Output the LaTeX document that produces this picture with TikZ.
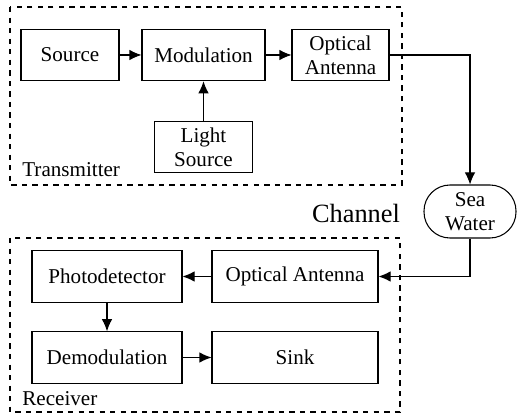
\documentclass[tikz,border=0pt]{standalone}
\usepackage{fontspec}
\setmainfont{Liberation Serif}
\usetikzlibrary{arrows.meta}

\tikzset{
	blok/.style={draw, line width=0.6pt, minimum height=1.03cm, align=center, font=\fontsize{12}{13.5}\selectfont},
	ramka/.style={draw, dashed, line width=0.6pt},
	strelka/.style={line width=0.6pt, -{Latex[length=2.4mm,width=2.1mm]}},
	podpis/.style={anchor=base west, inner sep=0pt, font=\fontsize{12}{13.5}\selectfont}
}

\begin{document}
\begin{tikzpicture}
	\useasboundingbox (0,0) rectangle (10.34,-8.32);
	
	%%% Рамки
	\draw[ramka] (0.20,-0.14) rectangle (8.04,-3.70);
	\draw[ramka] (0.20,-4.76) rectangle (8.00,-8.24);
	
	%%% Передатчик
	\node[blok, minimum width=1.96cm] (source) at (1.40,-1.10) {Source};
	\node[blok, minimum width=2.46cm] (mod) at (4.07,-1.10) {Modulation};
	\node[blok, minimum width=1.94cm, inner sep=1pt] (txant) at (6.81,-1.10) {Optical\\Antenna};
	\node[blok, minimum width=1.96cm, inner sep=1pt] (light) at (4.07,-2.94) {Light\\Source};
	\node[podpis] (tx) at (0.44,-3.53) {Transmitter};
	
	%%% Канал
	\node[blok, rounded corners=0.52cm, minimum width=1.84cm, minimum height=1.06cm, inner sep=1pt] (sea) at (9.40,-4.23) {Sea\\Water};
	\node[font=\fontsize{15}{17}\selectfont] (channel) at (7.12,-4.26) {Channel};
	
	%%% Приемник
	\node[blok, minimum width=3.00cm] (pd) at (2.14,-5.53) {Photodetector};
	\node[blok, minimum width=3.32cm] (rxant) at (5.90,-5.53) {Optical Antenna};
	\node[blok, minimum width=3.00cm] (demod) at (2.14,-7.15) {Demodulation};
	\node[blok, minimum width=3.32cm] (sink) at (5.90,-7.15) {Sink};
	\node[podpis] (rx) at (0.44,-8.10) {Receiver};
	
	%%% Стрелки
	\draw[strelka] (source) -- (mod);
	\draw[strelka] (mod) -- (txant);
	\draw[strelka] (light) -- (mod);
	\draw[strelka] (txant.east) -| (sea.north);
	\draw[strelka] (sea.south) |- (rxant.east);
	\draw[strelka] (rxant) -- (pd);
	\draw[strelka] (pd) -- (demod);
	\draw[strelka] (demod) -- (sink);
\end{tikzpicture}
\end{document}
